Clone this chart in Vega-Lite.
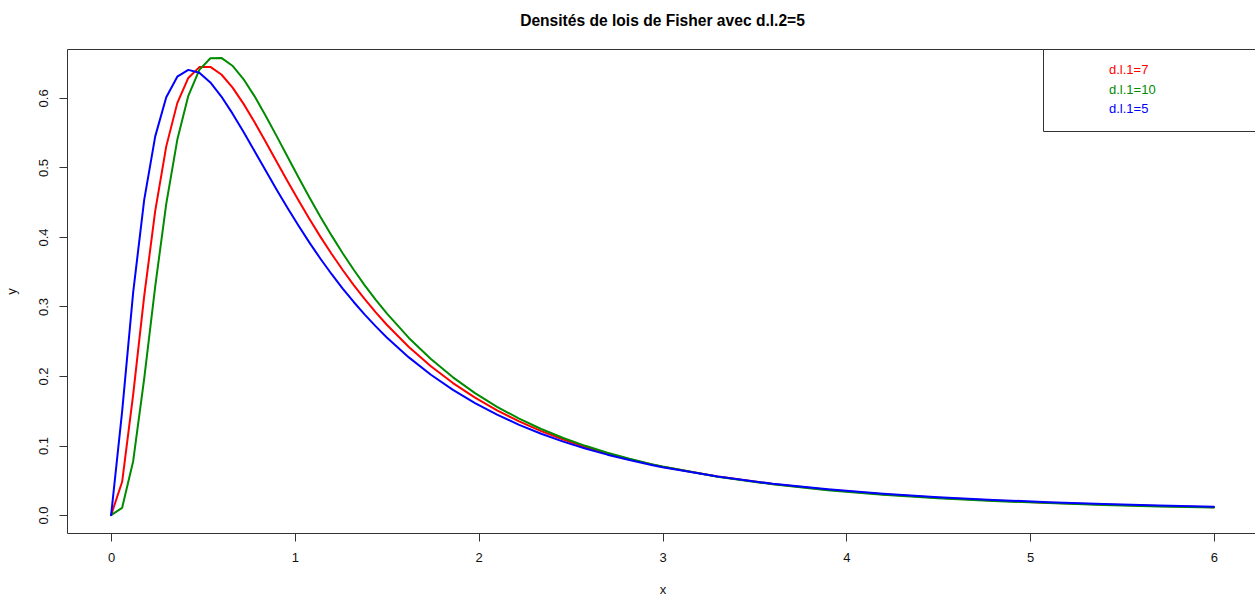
{
  "$schema": "https://vega.github.io/schema/vega-lite/v6.json",
  "autosize": {"type": "none"},
  "width": 1191,
  "height": 484,
  "padding": {"left": 67, "top": 49, "right": -3, "bottom": 63},
  "background": "white",
  "title": {
    "text": "Densités de lois de Fisher avec d.l.2=5",
    "font": "Liberation Sans",
    "fontSize": 15.6,
    "fontWeight": "bold",
    "color": "#000000",
    "anchor": "middle",
    "frame": "group",
    "baseline": "alphabetic",
    "offset": 7
  },
  "config": {
    "font": "Liberation Sans",
    "view": {"stroke": "#333333", "strokeWidth": 1}
  },
  "data": {
    "values": [
      {"serie": "d.l.1=7", "x": 0, "y": 0},
      {"serie": "d.l.1=7", "x": 0.06, "y": 0.0479},
      {"serie": "d.l.1=7", "x": 0.12, "y": 0.1733},
      {"serie": "d.l.1=7", "x": 0.18, "y": 0.3148},
      {"serie": "d.l.1=7", "x": 0.24, "y": 0.4376},
      {"serie": "d.l.1=7", "x": 0.30, "y": 0.5303},
      {"serie": "d.l.1=7", "x": 0.36, "y": 0.5925},
      {"serie": "d.l.1=7", "x": 0.42, "y": 0.6287},
      {"serie": "d.l.1=7", "x": 0.48, "y": 0.6443},
      {"serie": "d.l.1=7", "x": 0.54, "y": 0.6446},
      {"serie": "d.l.1=7", "x": 0.60, "y": 0.6337},
      {"serie": "d.l.1=7", "x": 0.66, "y": 0.6152},
      {"serie": "d.l.1=7", "x": 0.72, "y": 0.5918},
      {"serie": "d.l.1=7", "x": 0.78, "y": 0.5653},
      {"serie": "d.l.1=7", "x": 0.84, "y": 0.5372},
      {"serie": "d.l.1=7", "x": 0.90, "y": 0.5086},
      {"serie": "d.l.1=7", "x": 0.96, "y": 0.4801},
      {"serie": "d.l.1=7", "x": 1.02, "y": 0.4523},
      {"serie": "d.l.1=7", "x": 1.08, "y": 0.4255},
      {"serie": "d.l.1=7", "x": 1.14, "y": 0.3998},
      {"serie": "d.l.1=7", "x": 1.20, "y": 0.3755},
      {"serie": "d.l.1=7", "x": 1.26, "y": 0.3525},
      {"serie": "d.l.1=7", "x": 1.32, "y": 0.3308},
      {"serie": "d.l.1=7", "x": 1.38, "y": 0.3105},
      {"serie": "d.l.1=7", "x": 1.44, "y": 0.2916},
      {"serie": "d.l.1=7", "x": 1.50, "y": 0.2738},
      {"serie": "d.l.1=7", "x": 1.62, "y": 0.2418},
      {"serie": "d.l.1=7", "x": 1.74, "y": 0.2140},
      {"serie": "d.l.1=7", "x": 1.86, "y": 0.1899},
      {"serie": "d.l.1=7", "x": 1.98, "y": 0.1689},
      {"serie": "d.l.1=7", "x": 2.10, "y": 0.1507},
      {"serie": "d.l.1=7", "x": 2.22, "y": 0.1347},
      {"serie": "d.l.1=7", "x": 2.34, "y": 0.1208},
      {"serie": "d.l.1=7", "x": 2.46, "y": 0.1087},
      {"serie": "d.l.1=7", "x": 2.58, "y": 0.0980},
      {"serie": "d.l.1=7", "x": 2.70, "y": 0.0886},
      {"serie": "d.l.1=7", "x": 2.82, "y": 0.0803},
      {"serie": "d.l.1=7", "x": 2.94, "y": 0.0729},
      {"serie": "d.l.1=7", "x": 3.00, "y": 0.0695},
      {"serie": "d.l.1=7", "x": 3.30, "y": 0.0554},
      {"serie": "d.l.1=7", "x": 3.60, "y": 0.0447},
      {"serie": "d.l.1=7", "x": 3.90, "y": 0.0364},
      {"serie": "d.l.1=7", "x": 4.20, "y": 0.0301},
      {"serie": "d.l.1=7", "x": 4.50, "y": 0.0250},
      {"serie": "d.l.1=7", "x": 4.80, "y": 0.0210},
      {"serie": "d.l.1=7", "x": 5.10, "y": 0.0178},
      {"serie": "d.l.1=7", "x": 5.40, "y": 0.0152},
      {"serie": "d.l.1=7", "x": 5.70, "y": 0.0131},
      {"serie": "d.l.1=7", "x": 6.00, "y": 0.0113},

      {"serie": "d.l.1=10", "x": 0, "y": 0},
      {"serie": "d.l.1=10", "x": 0.06, "y": 0.0104},
      {"serie": "d.l.1=10", "x": 0.12, "y": 0.0775},
      {"serie": "d.l.1=10", "x": 0.18, "y": 0.1963},
      {"serie": "d.l.1=10", "x": 0.24, "y": 0.3291},
      {"serie": "d.l.1=10", "x": 0.30, "y": 0.4477},
      {"serie": "d.l.1=10", "x": 0.36, "y": 0.5397},
      {"serie": "d.l.1=10", "x": 0.42, "y": 0.6030},
      {"serie": "d.l.1=10", "x": 0.48, "y": 0.6404},
      {"serie": "d.l.1=10", "x": 0.54, "y": 0.6570},
      {"serie": "d.l.1=10", "x": 0.60, "y": 0.6575},
      {"serie": "d.l.1=10", "x": 0.66, "y": 0.6463},
      {"serie": "d.l.1=10", "x": 0.72, "y": 0.6271},
      {"serie": "d.l.1=10", "x": 0.78, "y": 0.6026},
      {"serie": "d.l.1=10", "x": 0.84, "y": 0.5748},
      {"serie": "d.l.1=10", "x": 0.90, "y": 0.5454},
      {"serie": "d.l.1=10", "x": 0.96, "y": 0.5154},
      {"serie": "d.l.1=10", "x": 1.02, "y": 0.4856},
      {"serie": "d.l.1=10", "x": 1.08, "y": 0.4565},
      {"serie": "d.l.1=10", "x": 1.14, "y": 0.4285},
      {"serie": "d.l.1=10", "x": 1.20, "y": 0.4019},
      {"serie": "d.l.1=10", "x": 1.26, "y": 0.3766},
      {"serie": "d.l.1=10", "x": 1.32, "y": 0.3528},
      {"serie": "d.l.1=10", "x": 1.38, "y": 0.3304},
      {"serie": "d.l.1=10", "x": 1.44, "y": 0.3095},
      {"serie": "d.l.1=10", "x": 1.50, "y": 0.2900},
      {"serie": "d.l.1=10", "x": 1.62, "y": 0.2548},
      {"serie": "d.l.1=10", "x": 1.74, "y": 0.2244},
      {"serie": "d.l.1=10", "x": 1.86, "y": 0.1981},
      {"serie": "d.l.1=10", "x": 1.98, "y": 0.1754},
      {"serie": "d.l.1=10", "x": 2.10, "y": 0.1557},
      {"serie": "d.l.1=10", "x": 2.22, "y": 0.1386},
      {"serie": "d.l.1=10", "x": 2.34, "y": 0.1238},
      {"serie": "d.l.1=10", "x": 2.46, "y": 0.1109},
      {"serie": "d.l.1=10", "x": 2.58, "y": 0.0996},
      {"serie": "d.l.1=10", "x": 2.70, "y": 0.0896},
      {"serie": "d.l.1=10", "x": 2.82, "y": 0.0809},
      {"serie": "d.l.1=10", "x": 2.94, "y": 0.0733},
      {"serie": "d.l.1=10", "x": 3.00, "y": 0.0698},
      {"serie": "d.l.1=10", "x": 3.30, "y": 0.0551},
      {"serie": "d.l.1=10", "x": 3.60, "y": 0.0442},
      {"serie": "d.l.1=10", "x": 3.90, "y": 0.0358},
      {"serie": "d.l.1=10", "x": 4.20, "y": 0.0294},
      {"serie": "d.l.1=10", "x": 4.50, "y": 0.0243},
      {"serie": "d.l.1=10", "x": 4.80, "y": 0.0204},
      {"serie": "d.l.1=10", "x": 5.10, "y": 0.0172},
      {"serie": "d.l.1=10", "x": 5.40, "y": 0.0146},
      {"serie": "d.l.1=10", "x": 5.70, "y": 0.0125},
      {"serie": "d.l.1=10", "x": 6.00, "y": 0.0108},

      {"serie": "d.l.1=5", "x": 0, "y": 0},
      {"serie": "d.l.1=5", "x": 0.06, "y": 0.1492},
      {"serie": "d.l.1=5", "x": 0.12, "y": 0.3203},
      {"serie": "d.l.1=5", "x": 0.18, "y": 0.4534},
      {"serie": "d.l.1=5", "x": 0.24, "y": 0.5447},
      {"serie": "d.l.1=5", "x": 0.30, "y": 0.6010},
      {"serie": "d.l.1=5", "x": 0.36, "y": 0.6305},
      {"serie": "d.l.1=5", "x": 0.42, "y": 0.6403},
      {"serie": "d.l.1=5", "x": 0.48, "y": 0.6361},
      {"serie": "d.l.1=5", "x": 0.54, "y": 0.6222},
      {"serie": "d.l.1=5", "x": 0.60, "y": 0.6020},
      {"serie": "d.l.1=5", "x": 0.66, "y": 0.5777},
      {"serie": "d.l.1=5", "x": 0.72, "y": 0.5512},
      {"serie": "d.l.1=5", "x": 0.78, "y": 0.5236},
      {"serie": "d.l.1=5", "x": 0.84, "y": 0.4958},
      {"serie": "d.l.1=5", "x": 0.90, "y": 0.4683},
      {"serie": "d.l.1=5", "x": 0.96, "y": 0.4416},
      {"serie": "d.l.1=5", "x": 1.02, "y": 0.4160},
      {"serie": "d.l.1=5", "x": 1.08, "y": 0.3915},
      {"serie": "d.l.1=5", "x": 1.14, "y": 0.3683},
      {"serie": "d.l.1=5", "x": 1.20, "y": 0.3464},
      {"serie": "d.l.1=5", "x": 1.26, "y": 0.3258},
      {"serie": "d.l.1=5", "x": 1.32, "y": 0.3065},
      {"serie": "d.l.1=5", "x": 1.38, "y": 0.2883},
      {"serie": "d.l.1=5", "x": 1.44, "y": 0.2714},
      {"serie": "d.l.1=5", "x": 1.50, "y": 0.2555},
      {"serie": "d.l.1=5", "x": 1.62, "y": 0.2268},
      {"serie": "d.l.1=5", "x": 1.74, "y": 0.2018},
      {"serie": "d.l.1=5", "x": 1.86, "y": 0.1800},
      {"serie": "d.l.1=5", "x": 1.98, "y": 0.1610},
      {"serie": "d.l.1=5", "x": 2.10, "y": 0.1444},
      {"serie": "d.l.1=5", "x": 2.22, "y": 0.1298},
      {"serie": "d.l.1=5", "x": 2.34, "y": 0.1170},
      {"serie": "d.l.1=5", "x": 2.46, "y": 0.1057},
      {"serie": "d.l.1=5", "x": 2.58, "y": 0.0957},
      {"serie": "d.l.1=5", "x": 2.70, "y": 0.0869},
      {"serie": "d.l.1=5", "x": 2.82, "y": 0.0791},
      {"serie": "d.l.1=5", "x": 2.94, "y": 0.0721},
      {"serie": "d.l.1=5", "x": 3.00, "y": 0.0689},
      {"serie": "d.l.1=5", "x": 3.30, "y": 0.0554},
      {"serie": "d.l.1=5", "x": 3.60, "y": 0.0450},
      {"serie": "d.l.1=5", "x": 3.90, "y": 0.0370},
      {"serie": "d.l.1=5", "x": 4.20, "y": 0.0307},
      {"serie": "d.l.1=5", "x": 4.50, "y": 0.0258},
      {"serie": "d.l.1=5", "x": 4.80, "y": 0.0218},
      {"serie": "d.l.1=5", "x": 5.10, "y": 0.0185},
      {"serie": "d.l.1=5", "x": 5.40, "y": 0.0159},
      {"serie": "d.l.1=5", "x": 5.70, "y": 0.0137},
      {"serie": "d.l.1=5", "x": 6.00, "y": 0.0119}
    ]
  },
  "mark": {"type": "line", "strokeWidth": 2, "strokeJoin": "round", "strokeCap": "round"},
  "encoding": {
    "x": {
      "field": "x",
      "type": "quantitative",
      "scale": {"domain": [-0.24, 6.24], "nice": false, "zero": false},
      "axis": {
        "title": "x",
        "values": [0, 1, 2, 3, 4, 5, 6],
        "format": "d",
        "grid": false,
        "domain": false,
        "ticks": true,
        "tickSize": 8,
        "tickColor": "#333333",
        "labelPadding": 10,
        "labelFont": "Liberation Sans",
        "labelFontSize": 13,
        "labelColor": "#111111",
        "labelFlush": false,
        "labelOverlap": false,
        "titleFont": "Liberation Sans",
        "titleFontSize": 13,
        "titleFontWeight": "normal",
        "titleColor": "#111111",
        "titleBaseline": "alphabetic",
        "titleY": 60.5
      }
    },
    "y": {
      "field": "y",
      "type": "quantitative",
      "scale": {"domain": [-0.02578, 0.67035], "nice": false, "zero": false},
      "axis": {
        "title": "y",
        "values": [0, 0.1, 0.2, 0.3, 0.4, 0.5, 0.6],
        "format": ".1f",
        "grid": false,
        "domain": false,
        "ticks": true,
        "tickSize": 8,
        "tickColor": "#333333",
        "labelAngle": 270,
        "labelAlign": "center",
        "labelBaseline": "alphabetic",
        "labelPadding": 12,
        "labelFont": "Liberation Sans",
        "labelFontSize": 13,
        "labelColor": "#111111",
        "labelFlush": false,
        "labelOverlap": false,
        "titleFont": "Liberation Sans",
        "titleFontSize": 13,
        "titleFontWeight": "normal",
        "titleColor": "#111111",
        "titleAngle": 270,
        "titleAlign": "center",
        "titleBaseline": "alphabetic",
        "titleX": -51.5,
        "titleY": 242
      }
    },
    "color": {
      "field": "serie",
      "type": "nominal",
      "scale": {
        "domain": ["d.l.1=7", "d.l.1=10", "d.l.1=5"],
        "range": ["#FF0000", "#008B00", "#0000FF"]
      },
      "legend": {
        "title": null,
        "orient": "none",
        "legendX": 976,
        "legendY": 0,
        "padding": 14.5,
        "strokeColor": "#333333",
        "fillColor": "#FFFFFF",
        "symbolSize": 0,
        "symbolOpacity": 0,
        "symbolStrokeWidth": 0,
        "labelOffset": 38.5,
        "rowPadding": 5.5,
        "labelFont": "Liberation Sans",
        "labelFontSize": 13,
        "labelBaseline": "middle",
        "labelLimit": 0,
        "labelExpr": "datum.label + '\u00a0\u00a0\u00a0\u00a0\u00a0\u00a0\u00a0\u00a0\u00a0\u00a0\u00a0\u00a0\u00a0\u00a0\u00a0\u00a0\u00a0\u00a0\u00a0\u00a0\u00a0\u00a0\u00a0\u00a0\u00a0\u200b'",
        "encode": {
          "labels": {"update": {"fill": {"scale": "color", "field": "value"}}}
        }
      }
    }
  }
}
